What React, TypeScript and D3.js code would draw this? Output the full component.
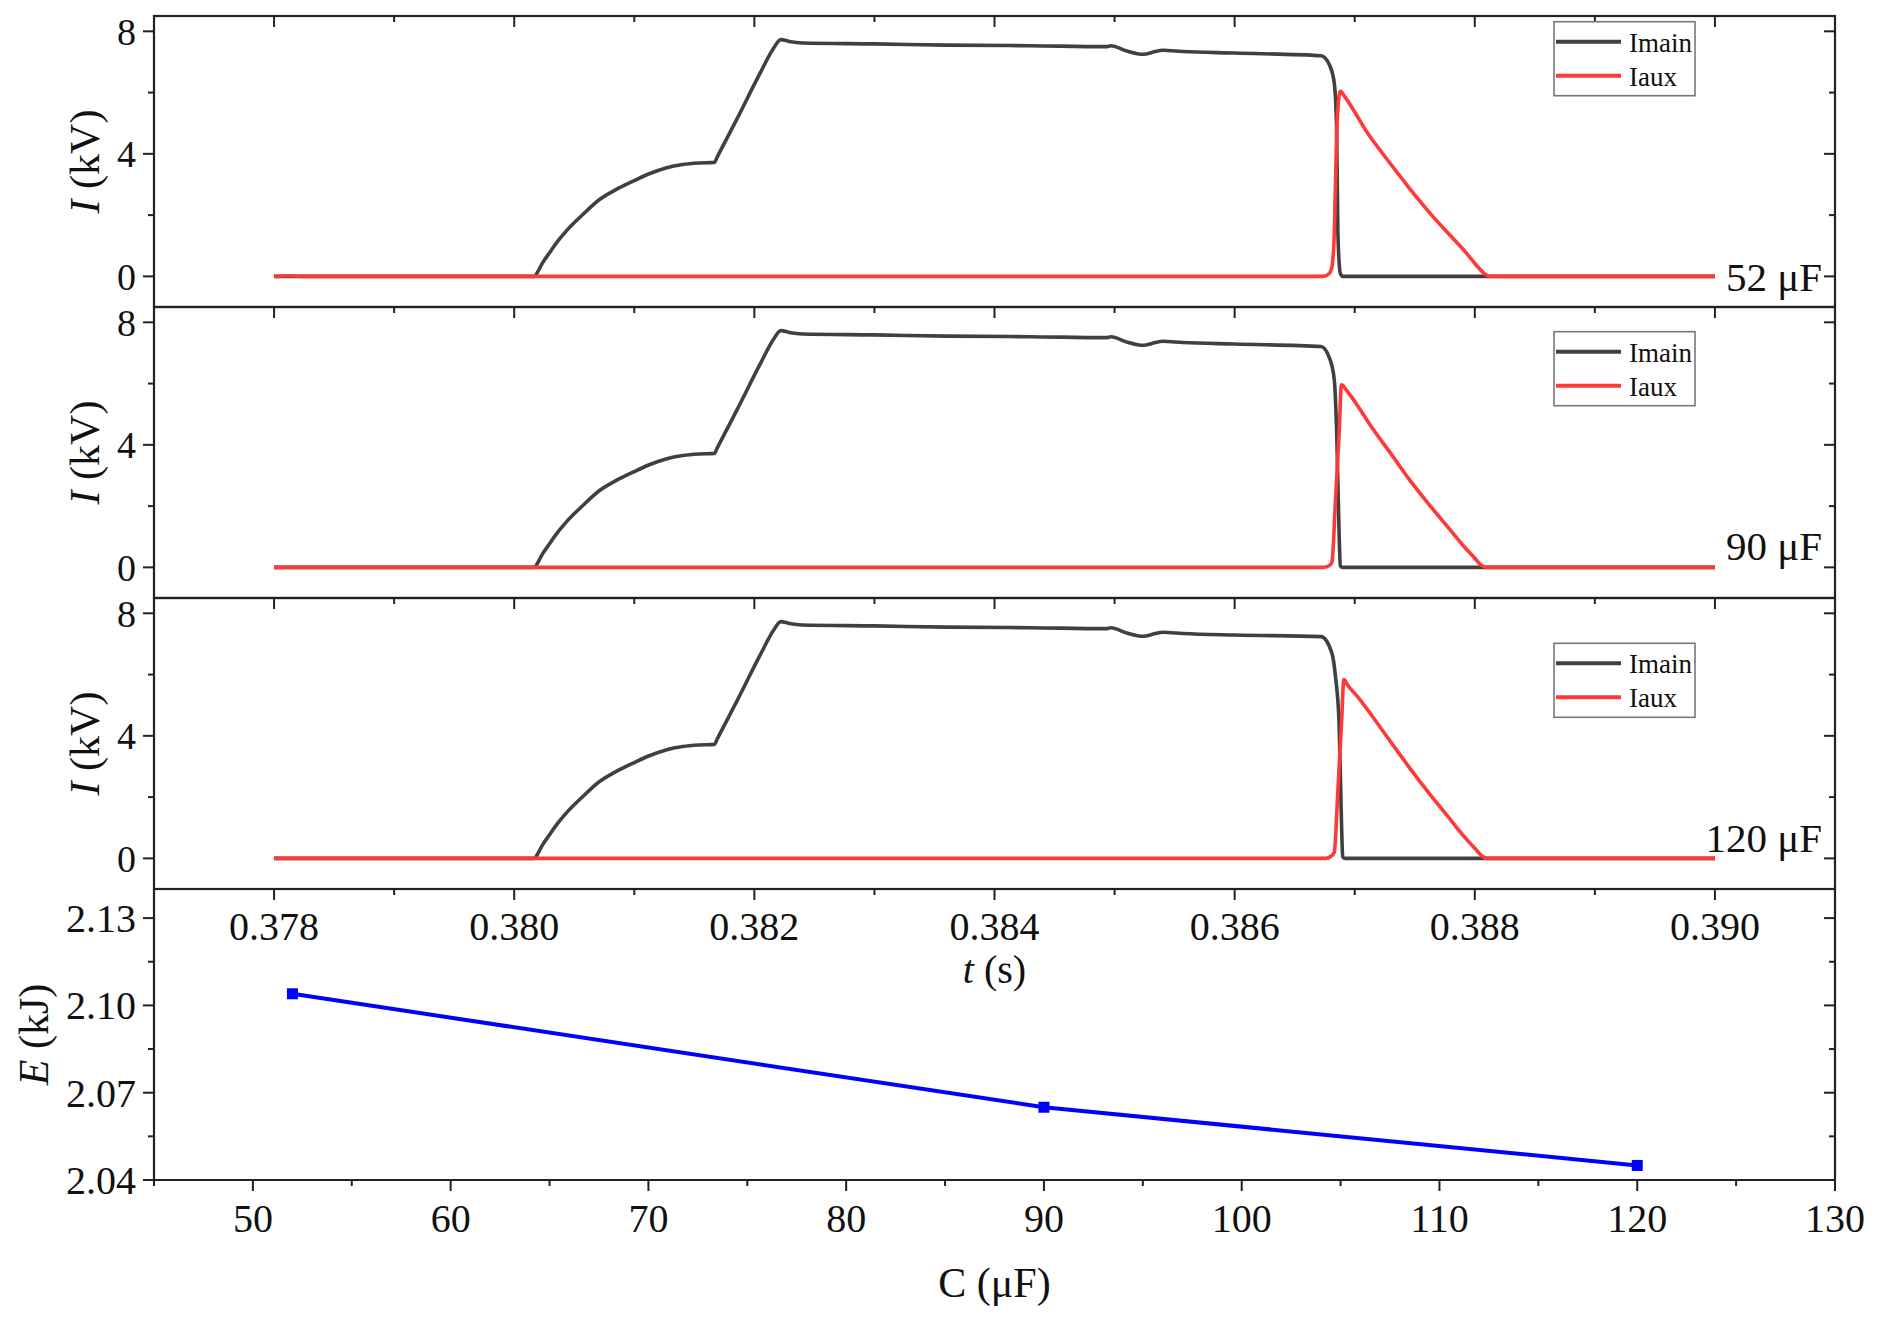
import React from 'react';
import * as d3 from 'd3';

// ---------- data ----------
const timeDomain: [number, number] = [0.377, 0.391];
const currentDomain: [number, number] = [-1, 8.5];
const timeMajor = [0.378, 0.38, 0.382, 0.384, 0.386, 0.388, 0.39];
const timeMinor = [0.379, 0.381, 0.383, 0.385, 0.387, 0.389];
const timeLabels = ['0.378', '0.380', '0.382', '0.384', '0.386', '0.388', '0.390'];
const currentMajor = [0, 4, 8];
const currentMinor = [2, 6];
const currentLabels = ['0', '4', '8'];

// 52 uF
const tMain52 = [0.378, 0.38017, 0.38019, 0.380236, 0.380292, 0.380361, 0.380431, 0.380569, 0.380708, 0.380847, 0.380986, 0.381125, 0.381264, 0.381403, 0.381542, 0.381667, 0.38169, 0.38185, 0.38205, 0.38216, 0.38222, 0.38229, 0.3824, 0.383, 0.3836, 0.3843, 0.38493, 0.38497, 0.3851, 0.38524, 0.38533, 0.3854, 0.38557, 0.386, 0.38672, 0.38679, 0.38683, 0.38685, 0.38686, 0.38688, 0.3869, 0.39];
const iMain52 = [0, 0, 0.11, 0.44, 0.76, 1.14, 1.47, 2.01, 2.5, 2.83, 3.1, 3.35, 3.54, 3.65, 3.7, 3.72, 3.89, 5.1, 6.65, 7.45, 7.73, 7.67, 7.62, 7.59, 7.55, 7.53, 7.5, 7.53, 7.36, 7.25, 7.33, 7.38, 7.34, 7.29, 7.2, 6.9, 6.3, 4.7, 1.4, 0.1, 0, 0];
const tAux52 = [0.378, 0.37803, 0.37812, 0.37822, 0.38674, 0.38679, 0.38681, 0.38683, 0.38685, 0.38687, 0.38688, 0.38692, 0.38701, 0.3871, 0.38724, 0.38738, 0.38751, 0.38765, 0.38779, 0.38793, 0.38801, 0.38808, 0.38812, 0.39];
const iAux52 = [0, 0, 0.02, 0, 0, 0.1, 0.3, 1.4, 4.7, 5.9, 6.04, 5.85, 5.3, 4.72, 3.97, 3.26, 2.61, 1.96, 1.36, 0.76, 0.38, 0.09, 0, 0];

// 90 uF
const tMain90 = [0.378, 0.38017, 0.38019, 0.380236, 0.380292, 0.380361, 0.380431, 0.380569, 0.380708, 0.380847, 0.380986, 0.381125, 0.381264, 0.381403, 0.381542, 0.381667, 0.38169, 0.38185, 0.38205, 0.38216, 0.38222, 0.38229, 0.3824, 0.383, 0.3836, 0.3843, 0.38493, 0.38497, 0.3851, 0.38524, 0.38533, 0.3854, 0.38557, 0.386, 0.38672, 0.38679, 0.38683, 0.38685, 0.38687, 0.38688, 0.3869, 0.39];
const iMain90 = [0, 0, 0.11, 0.44, 0.76, 1.14, 1.47, 2.01, 2.5, 2.83, 3.1, 3.35, 3.54, 3.65, 3.7, 3.72, 3.89, 5.1, 6.65, 7.45, 7.73, 7.67, 7.62, 7.59, 7.55, 7.53, 7.5, 7.53, 7.36, 7.25, 7.33, 7.38, 7.34, 7.29, 7.21, 6.83, 6.12, 4.37, 1.1, 0.05, 0, 0];
const tAux90 = [0.378, 0.38674, 0.38679, 0.38681, 0.38684, 0.38687, 0.38689, 0.38693, 0.38702, 0.38713, 0.3873, 0.38746, 0.38763, 0.3878, 0.38791, 0.388, 0.38805, 0.38809, 0.39];
const iAux90 = [0, 0, 0.06, 0.16, 2.19, 4.37, 5.96, 5.79, 5.3, 4.64, 3.72, 2.84, 2.0, 1.2, 0.68, 0.3, 0.08, 0, 0];

// 120 uF
const tMain120 = [0.378, 0.38017, 0.38019, 0.380236, 0.380292, 0.380361, 0.380431, 0.380569, 0.380708, 0.380847, 0.380986, 0.381125, 0.381264, 0.381403, 0.381542, 0.381667, 0.38169, 0.38185, 0.38205, 0.38216, 0.38222, 0.38229, 0.3824, 0.383, 0.3836, 0.3843, 0.38493, 0.38497, 0.3851, 0.38524, 0.38533, 0.3854, 0.38557, 0.386, 0.38672, 0.38681, 0.38684, 0.38687, 0.38689, 0.3869, 0.38692, 0.39];
const iMain120 = [0, 0, 0.11, 0.44, 0.76, 1.14, 1.47, 2.01, 2.5, 2.83, 3.1, 3.35, 3.54, 3.65, 3.7, 3.72, 3.89, 5.1, 6.65, 7.45, 7.73, 7.67, 7.62, 7.59, 7.55, 7.53, 7.5, 7.53, 7.36, 7.25, 7.33, 7.38, 7.34, 7.29, 7.24, 6.7, 5.93, 4.4, 1.14, 0.05, 0, 0];
const tAux120 = [0.378, 0.38676, 0.3868, 0.38683, 0.38686, 0.38689, 0.38691, 0.38694, 0.38703, 0.38713, 0.3873, 0.38746, 0.38763, 0.3878, 0.38791, 0.388, 0.38806, 0.3881, 0.39];
const iAux120 = [0, 0, 0.06, 0.2, 2.23, 4.4, 5.84, 5.66, 5.25, 4.73, 3.8, 2.94, 2.07, 1.25, 0.72, 0.33, 0.08, 0, 0];

const capLabels = ['52 μF', '90 μF', '120 μF'];
const seriesNames = ['Imain', 'Iaux'];

// energy vs capacitance
const capacitance = [52, 90, 120];
const energy = [2.104, 2.065, 2.045];
const cDomain: [number, number] = [45, 130];
const eDomain: [number, number] = [2.04, 2.14];
const cMajor = [50, 60, 70, 80, 90, 100, 110, 120, 130];
const cMinor = [45, 55, 65, 75, 85, 95, 105, 115, 125];
const cLabels = ['50', '60', '70', '80', '90', '100', '110', '120', '130'];
const eMajor = [2.04, 2.07, 2.1, 2.13];
const eMinor = [2.055, 2.085, 2.115];
const eLabels = ['2.04', '2.07', '2.10', '2.13'];

// ---------- layout ----------
const W = 1882;
const H = 1322;
const L = 154;
const R = 1835;
const PH = 291;
const panelTops = [16, 307, 598];
const bottomTop = 889;
const bottomBottom = 1180;
const legendTops = [21.7, 331.7, 643.3];
const capLabelDy = [15, -7, -6];
const FONT = "'Liberation Serif', 'Times New Roman', serif";
const AXIS = '#222';
const MAJ = 11;
const MIN = 6;
const GRAY = '#404040';
const RED = '#ff3838';

const xT = d3.scaleLinear().domain(timeDomain).range([L, R]);

type PanelProps = {
  idx: number;
  tMain: number[];
  iMain: number[];
  tAux: number[];
  iAux: number[];
};

function Panel({ idx, tMain, iMain, tAux, iAux }: PanelProps) {
  const top = panelTops[idx];
  const bottom = top + PH;
  const y = d3.scaleLinear().domain(currentDomain).range([bottom, top]);
  const mk = (ts: number[], vs: number[]) =>
    d3
      .line<number>()
      .curve(d3.curveMonotoneX)
      .x((t) => xT(t))
      .y((_, i) => y(vs[i]))(ts) || '';
  const mid = (top + bottom) / 2;
  const lt = legendTops[idx];
  const isLast = idx === panelTops.length - 1;
  return (
    <g>
      <path d={mk(tMain, iMain)} fill="none" stroke={GRAY} strokeWidth={3.6} strokeLinejoin="round" />
      <path d={mk(tAux, iAux)} fill="none" stroke={RED} strokeWidth={3.6} strokeLinejoin="round" />
      {/* frame */}
      <rect x={L} y={top} width={R - L} height={PH} fill="none" stroke={AXIS} strokeWidth={2.2} />
      {/* top ticks inward */}
      {timeMajor.map((t) => (
        <line key={'tM' + t} x1={xT(t)} x2={xT(t)} y1={top} y2={top + MAJ} stroke={AXIS} strokeWidth={2} />
      ))}
      {timeMinor.map((t) => (
        <line key={'tm' + t} x1={xT(t)} x2={xT(t)} y1={top} y2={top + MIN} stroke={AXIS} strokeWidth={2} />
      ))}
      {isLast &&
        timeMajor.map((t) => (
          <line key={'bM' + t} x1={xT(t)} x2={xT(t)} y1={bottom} y2={bottom + MAJ} stroke={AXIS} strokeWidth={2} />
        ))}
      {isLast &&
        timeMinor.map((t) => (
          <line key={'bm' + t} x1={xT(t)} x2={xT(t)} y1={bottom} y2={bottom + MIN} stroke={AXIS} strokeWidth={2} />
        ))}
      {/* left ticks outward, right ticks inward */}
      {currentMajor.map((v, i) => (
        <g key={'yM' + v}>
          <line x1={L - MAJ} x2={L} y1={y(v)} y2={y(v)} stroke={AXIS} strokeWidth={2} />
          <line x1={R - MAJ} x2={R} y1={y(v)} y2={y(v)} stroke={AXIS} strokeWidth={2} />
          <text x={136} y={y(v)} dy="0.35em" textAnchor="end" fontSize={38} fontFamily={FONT} fill="#111">
            {currentLabels[i]}
          </text>
        </g>
      ))}
      {currentMinor.map((v) => (
        <g key={'ym' + v}>
          <line x1={L - MIN} x2={L} y1={y(v)} y2={y(v)} stroke={AXIS} strokeWidth={2} />
          <line x1={R - MIN} x2={R} y1={y(v)} y2={y(v)} stroke={AXIS} strokeWidth={2} />
        </g>
      ))}
      <text transform={`translate(99,${mid}) rotate(-90)`} textAnchor="middle" fontSize={42} fontFamily={FONT} fill="#111">
        <tspan fontStyle="italic">I</tspan>
        {' (kV)'}
      </text>
      {/* legend */}
      <rect x={1554} y={lt} width={141} height={74} fill="white" stroke="#777" strokeWidth={1.6} />
      <line x1={1556} x2={1621} y1={lt + 20} y2={lt + 20} stroke={GRAY} strokeWidth={4} />
      <line x1={1556} x2={1621} y1={lt + 54} y2={lt + 54} stroke={RED} strokeWidth={4} />
      <text x={1629} y={lt + 30} fontSize={27} fontFamily={FONT} fill="#111">
        {seriesNames[0]}
      </text>
      <text x={1629} y={lt + 64} fontSize={27} fontFamily={FONT} fill="#111">
        {seriesNames[1]}
      </text>
      <text x={1822} y={y(0) + capLabelDy[idx]} textAnchor="end" fontSize={41} fontFamily={FONT} fill="#111">
        {capLabels[idx]}
      </text>
    </g>
  );
}

function EnergyChart() {
  const x = d3.scaleLinear().domain(cDomain).range([L, R]);
  const y = d3.scaleLinear().domain(eDomain).range([bottomBottom, bottomTop]);
  const path =
    d3
      .line<number>()
      .x((c) => x(c))
      .y((_, i) => y(energy[i]))(capacitance) || '';
  return (
    <g>
      <line x1={L} x2={L} y1={bottomTop} y2={bottomBottom} stroke={AXIS} strokeWidth={2.2} />
      <line x1={R} x2={R} y1={bottomTop} y2={bottomBottom} stroke={AXIS} strokeWidth={2.2} />
      <line x1={L - 1} x2={R + 1} y1={bottomBottom} y2={bottomBottom} stroke={AXIS} strokeWidth={2.2} />
      {cMajor.map((c, i) => (
        <g key={'cM' + c}>
          <line x1={x(c)} x2={x(c)} y1={bottomBottom} y2={bottomBottom + MAJ} stroke={AXIS} strokeWidth={2} />
          <text x={x(c)} y={1232} textAnchor="middle" fontSize={40} fontFamily={FONT} fill="#111">
            {cLabels[i]}
          </text>
        </g>
      ))}
      {cMinor.map((c) => (
        <line key={'cm' + c} x1={x(c)} x2={x(c)} y1={bottomBottom} y2={bottomBottom + MIN} stroke={AXIS} strokeWidth={2} />
      ))}
      {eMajor.map((e, i) => (
        <g key={'eM' + e}>
          <line x1={L - MAJ} x2={L} y1={y(e)} y2={y(e)} stroke={AXIS} strokeWidth={2} />
          <line x1={R - MAJ} x2={R} y1={y(e)} y2={y(e)} stroke={AXIS} strokeWidth={2} />
          <text x={136} y={y(e)} dy="0.35em" textAnchor="end" fontSize={40} fontFamily={FONT} fill="#111">
            {eLabels[i]}
          </text>
        </g>
      ))}
      {eMinor.map((e) => (
        <g key={'em' + e}>
          <line x1={L - MIN} x2={L} y1={y(e)} y2={y(e)} stroke={AXIS} strokeWidth={2} />
          <line x1={R - MIN} x2={R} y1={y(e)} y2={y(e)} stroke={AXIS} strokeWidth={2} />
        </g>
      ))}
      <path d={path} fill="none" stroke="#0000ff" strokeWidth={4} />
      {capacitance.map((c, i) => (
        <rect key={'p' + c} x={x(c) - 5.5} y={y(energy[i]) - 5.5} width={11} height={11} fill="#0000ff" />
      ))}
      <text transform={`translate(48,${(bottomTop + bottomBottom) / 2}) rotate(-90)`} textAnchor="middle" fontSize={42} fontFamily={FONT} fill="#111">
        <tspan fontStyle="italic">E</tspan>
        {' (kJ)'}
      </text>
      <text x={(L + R) / 2} y={1297} textAnchor="middle" fontSize={42} fontFamily={FONT} fill="#111">
        C (μF)
      </text>
    </g>
  );
}

export default function App() {
  return (
    <svg
      width={W}
      height={H}
      viewBox={`0 0 ${W} ${H}`}
      style={{ position: 'absolute', left: 0, top: 0, background: 'white' }}
    >
      <rect x={0} y={0} width={W} height={H} fill="white" />
      <Panel idx={0} tMain={tMain52} iMain={iMain52} tAux={tAux52} iAux={iAux52} />
      <Panel idx={1} tMain={tMain90} iMain={iMain90} tAux={tAux90} iAux={iAux90} />
      <Panel idx={2} tMain={tMain120} iMain={iMain120} tAux={tAux120} iAux={iAux120} />
      <EnergyChart />
      {/* time axis labels of last panel */}
      {timeMajor.map((t, i) => (
        <text key={'tl' + t} x={xT(t)} y={940} textAnchor="middle" fontSize={40} fontFamily={FONT} fill="#111">
          {timeLabels[i]}
        </text>
      ))}
      <text x={(L + R) / 2} y={983} textAnchor="middle" fontSize={40} fontFamily={FONT} fill="#111">
        <tspan fontStyle="italic">t</tspan>
        {' (s)'}
      </text>
    </svg>
  );
}
